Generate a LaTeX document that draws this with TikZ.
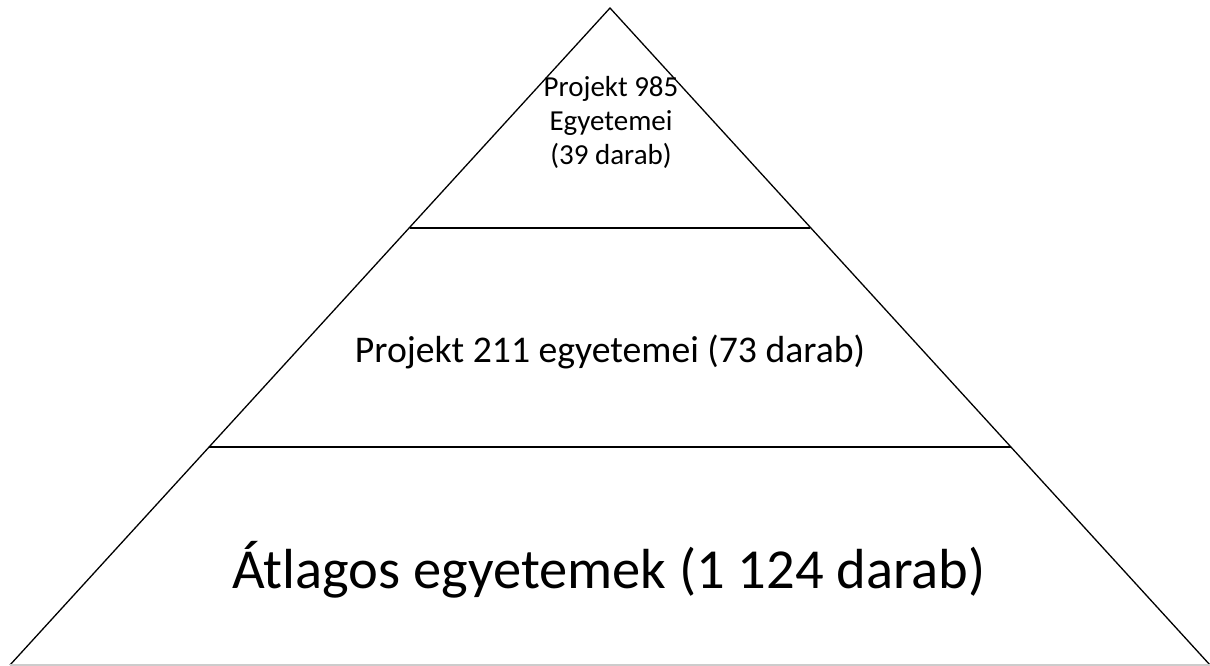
\documentclass[tikz,border=0pt]{standalone}
\usepackage{fontspec}
\setmainfont{Carlito}
\begin{document}
\begin{tikzpicture}[x=1pt,y=-1pt,line width=1.3pt,
  lbl/.style={align=center,inner sep=0pt,font=#1}]
\useasboundingbox (0,0) rectangle (1210,666);
\coordinate (apex) at (610,8);
\coordinate (bl) at (10,665);
\coordinate (br) at (1210,665);
\coordinate (l1) at (410,228);
\coordinate (r1) at (810,228);
\coordinate (l2) at (209,447);
\coordinate (r2) at (1011,447);
\draw (bl) -- (apex) -- (br);
\draw[gray!40] (bl) -- (br);
\draw (l1) -- (r1);
\draw (l2) -- (r2);
\node[lbl={\fontsize{29}{34}\selectfont}] (t1) at (611,122) {Projekt 985\\Egyetemei\\(39 darab)};
\node[lbl={\fontsize{37.7}{45}\selectfont}] (t2) at (610,352) {Projekt 211 egyetemei (73 darab)};
\node[lbl={\fontsize{56.5}{67}\selectfont}] (t3) at (609,570) {Átlagos egyetemek (1 124 darab)};
\end{tikzpicture}
\end{document}
